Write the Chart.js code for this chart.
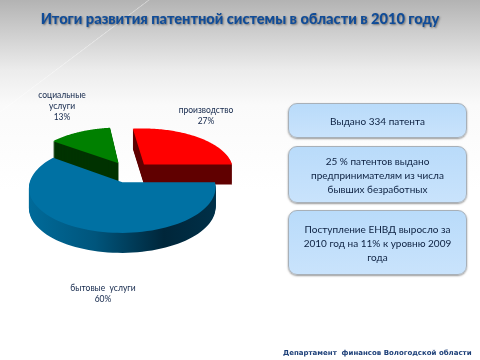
<!DOCTYPE html>
<html lang="ru">
<head>
<meta charset="UTF-8">
<title>Итоги развития патентной системы</title>
<script src="https://cdn.jsdelivr.net/npm/chart.js"></script>
<style>
    html, body { margin: 0; padding: 0; }
    body {
        width: 480px; height: 360px; position: relative; overflow: hidden;
        font-family: Lato, 'Open Sans', sans-serif;
        background:
            linear-gradient(143deg, transparent 0, transparent 89px, rgba(255,255,255,.45) 89.5px, transparent 90.5px),
            linear-gradient(to bottom, #b3b3b3 0, #d0d0d0 35px, #ececec 70px, #fafafa 105px, #ffffff 190px);
    }
    canvas { position: absolute; left: 0; top: 0; }
    h1 {
        position: absolute; left: 0; top: 9px; width: 480px; margin: 0; text-align: center;
        font-size: 14.6px; line-height: 20px; font-weight: 900; color: #104c98;
        text-shadow: 1px 1px 2px rgba(60,60,60,.6);
    }
    .box {
        position: absolute; left: 288px; width: 179px; box-sizing: border-box;
        display: flex; align-items: center; justify-content: center; text-align: center;
        padding: 1px 7px 0; font-size: 10px; line-height: 14px; color: #0c2040;
        border: 1px solid #a8b0b8; border-radius: 9px;
        background: linear-gradient(to bottom, #b9dbfa, #c9e3fc);
        box-shadow: 0 1px 2px rgba(70,70,70,.55);
    }
    #footer {
        position: absolute; left: 283px; top: 349px; white-space: nowrap;
        font-family: 'DejaVu Sans', sans-serif; font-size: 7px; font-weight: bold; color: #1c3f78;
    }
</style>
</head>
<body>
<canvas id="grafico" width="480" height="360"></canvas>
<h1>Итоги развития патентной системы в области в 2010 году</h1>
<div class="box" style="top:103px;height:35px">Выдано 334 патента</div>
<div class="box" style="top:146px;height:57px">25 % патентов выдано предпринимателям из числа бывших безработных</div>
<div class="box" style="top:210px;height:65px">Поступление ЕНВД выросло за 2010 год на 11% к уровню 2009 года</div>
<div id="footer">Департамент&nbsp; финансов Вологодской области</div>
<script>
const categories = [['производство'], ['бытовые  услуги'], ['социальные', 'услуги']];
const shares = [27, 60, 13];
const topColors = ['#ff0000', '#0071a3', '#008000'];
const wallColors = ['#600000', '#00405f', '#003300'];

// label anchors, same order as categories
const labelSpots = [[206, 110], [103, 288], [62, 95]];
const depth = 20;
const view = { cx: 129.5, cy: 172, sx: 90, sy: 42, p: 0.12 };

// tilt the flat pie: near side bigger than far side
function project(u, v) {
    const s = 1 / (1 - view.p * v);
    return [view.cx + view.sx * u * s, view.cy + view.sy * v * s];
}

function slicePath(ctx, arc, dy) {
    const { x, y, startAngle, endAngle, outerRadius: R } = arc.getProps(['x', 'y', 'startAngle', 'endAngle', 'outerRadius']);
    const mid = (startAngle + endAngle) / 2;
    const off = arc.options.offset;
    const ou = off * Math.cos(mid) / R;
    const ov = off * Math.sin(mid) / R;
    ctx.beginPath();
    let pt = project(ou, ov);
    ctx.moveTo(pt[0], pt[1] + dy);
    const steps = 80;
    for (let i = 0; i <= steps; i++) {
        const a = startAngle + (endAngle - startAngle) * i / steps;
        pt = project(ou + Math.cos(a), ov + Math.sin(a));
        ctx.lineTo(pt[0], pt[1] + dy);
    }
    ctx.closePath();
}

const pie3d = {
    id: 'pie3d',
    beforeDatasetsDraw(chart) {
        const ctx = chart.ctx;
        const arcs = chart.getDatasetMeta(0).data;
        // back slices first, the big front one last
        [2, 0, 1].forEach(i => {
            let wall = wallColors[i];
            if (i === 1) {
                wall = ctx.createLinearGradient(30, 0, 216, 0);
                wall.addColorStop(0, '#006a99');
                wall.addColorStop(0.35, '#00557c');
                wall.addColorStop(0.72, '#00263a');
                wall.addColorStop(1, '#003048');
            }
            ctx.fillStyle = wall;
            for (let d = depth; d > 0; d--) {
                slicePath(ctx, arcs[i], d);
                ctx.fill();
            }
            ctx.fillStyle = topColors[i];
            slicePath(ctx, arcs[i], 0);
            ctx.fill();
        });
        ctx.font = '8.5px Lato, sans-serif';
        ctx.textAlign = 'center';
        ctx.textBaseline = 'middle';
        ctx.fillStyle = '#12264a';
        categories.forEach((lines, i) => {
            const rows = lines.concat(shares[i] + '%');
            rows.forEach((t, j) => ctx.fillText(t, labelSpots[i][0], labelSpots[i][1] + j * 11));
        });
        return false;
    }
};

new Chart(document.getElementById('grafico').getContext('2d'), {
    type: 'pie',
    data: {
        labels: categories.map(c => c.join(' ')),
        datasets: [{ data: shares, backgroundColor: topColors, borderWidth: 0, offset: 22 }]
    },
    options: {
        responsive: false,
        animation: false,
        rotation: -7,
        layout: { padding: { left: 29.5, right: 250.5, top: 72, bottom: 88 } },
        plugins: { legend: { display: false }, tooltip: { enabled: false } }
    },
    plugins: [pie3d]
});
</script>
</body>
</html>
